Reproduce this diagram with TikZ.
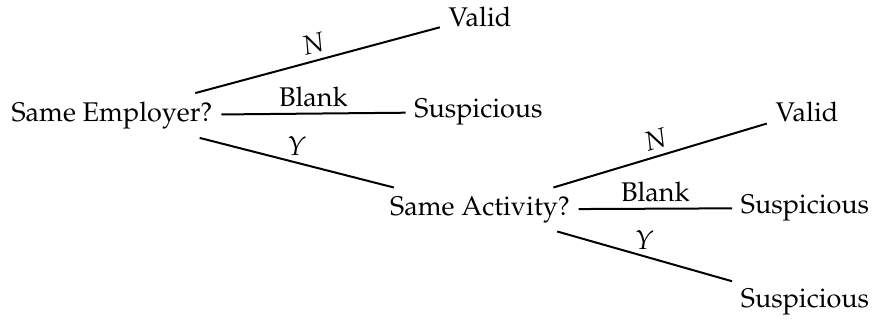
\documentclass[tikz,border=0pt]{standalone}
\usepackage[T1]{fontenc}
\usepackage{mathpazo}
\begin{document}
\begin{tikzpicture}[x=0.4pt,y=-0.4pt,
  every node/.style={font=\fontsize{10.8}{13}\selectfont},
  leaf/.style={inner sep=3.33pt},
  branch/.style={line width=0.8pt},
  lab/.style={midway,above,inner sep=2.4pt}]
\useasboundingbox (0,0) rectangle (873,322);
% decision nodes
\node[leaf] (emp) at (112,115.5) {Same Employer?};
\node[leaf] (act) at (480,209.5) {Same Activity?};
% outcomes of the first question
\node[leaf] (v1) at (480,16.5) {Valid};
\node[leaf] (s1) at (478.5,112) {Suspicious};
% outcomes of the second question
\node[leaf] (v2) at (807,111.5) {Valid};
\node[leaf] (s2) at (805,208) {Suspicious};
\node[leaf] (s3) at (805,302) {Suspicious};
% branches
\draw[branch] (emp) -- node[lab,sloped] {$N$} (v1);
\draw[branch] (emp) -- node[lab] {Blank} (s1);
\draw[branch] (emp) -- node[lab] {$Y$} (act);
\draw[branch] (act) -- node[lab,sloped] {$N$} (v2);
\draw[branch] (act) -- node[lab] {Blank} (s2);
\draw[branch] (act) -- node[lab] {$Y$} (s3);
\end{tikzpicture}
\end{document}
